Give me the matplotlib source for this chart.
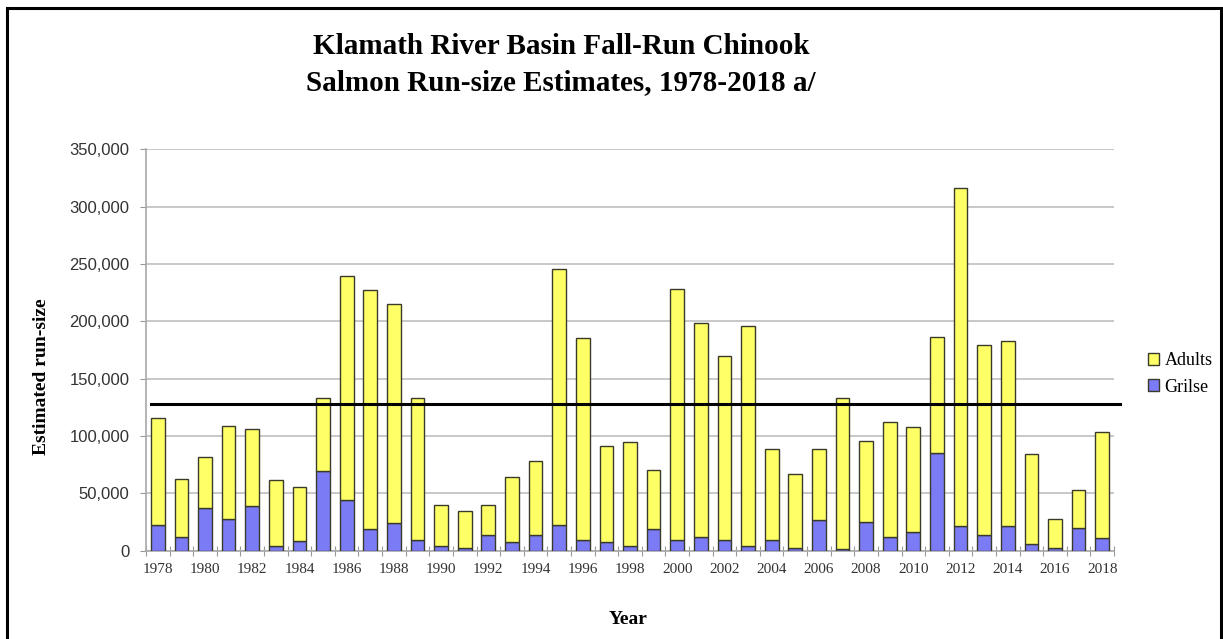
import matplotlib.pyplot as plt
import matplotlib.patches as mpatches
from matplotlib.ticker import FuncFormatter
import numpy as np

# run-size estimates
years = list(range(1978, 2019))
grilse = [22100, 11600, 36900, 27900, 39200, 4100, 8400, 69200, 44200, 18900,
          24100, 9300, 4400, 2000, 13400, 7800, 14000, 22100, 9600, 7800,
          4100, 19200, 9600, 11600, 9000, 4100, 9600, 2300, 26500, 1500,
          25300, 11900, 16300, 84900, 21500, 14000, 21800, 5500, 2300, 20100,
          10800]
totals = [115400, 62800, 82000, 108400, 105800, 61300, 55200, 133400, 239200, 227300,
          215100, 133400, 40100, 34600, 39800, 64500, 78500, 245400, 185200, 91300,
          94800, 70100, 228200, 198500, 169800, 195600, 88700, 67200, 88400, 133400,
          95600, 112200, 107600, 186300, 316600, 179100, 182600, 84300, 27300, 53200,
          103500]
adults = [t - g for t, g in zip(totals, grilse)]
floor_level = 128000

yellow = '#ffff66'
blue = '#7b7bf5'
edge = '#3a3a2a'
serif = 'Liberation Serif'
sans = 'Liberation Sans'

fig = plt.figure(figsize=(12.23, 6.39), dpi=100)
ax = fig.add_axes([146 / 1223, 88.3 / 639, 968 / 1223, 401.4 / 639])

x = np.arange(len(years))
ax.bar(x, grilse, width=0.58, color=blue, edgecolor=edge, linewidth=1.0, zorder=3)
ax.bar(x, adults, bottom=grilse, width=0.58, color=yellow, edgecolor=edge, linewidth=1.0, zorder=3)
ax.plot([-0.29, 40.77], [floor_level, floor_level], color='black', linewidth=2.2,
        zorder=4, clip_on=False)

ax.set_xlim(-0.5, len(years) - 0.5)
ax.set_ylim(0, 350000)
ax.set_yticks(np.arange(0, 350001, 50000))
ax.yaxis.set_major_formatter(FuncFormatter(lambda v, p: f'{int(v):,}'))
ax.grid(axis='y', color='#c4c4c4', linewidth=1.3, zorder=0)

# tick marks between categories, labels every other year
ax.set_xticks(np.arange(-0.5, len(years), 1.0))
ax.set_xticklabels([])
ax.set_xticks(x[::2], minor=True)
ax.set_xticklabels([str(y) for y in years[::2]], minor=True)
ax.tick_params(axis='x', which='major', direction='inout', length=7, color='#999999')
ax.tick_params(axis='x', which='minor', length=0, pad=9, labelsize=11, labelcolor='#333333')
ax.tick_params(axis='y', direction='out', length=4, color='#999999', pad=8,
               labelsize=12, labelcolor='#333333')
for lab in ax.get_xticklabels(minor=True):
    lab.set_fontfamily(serif)
for lab in ax.get_yticklabels():
    lab.set_fontfamily(sans)

for side in ['top', 'right']:
    ax.spines[side].set_visible(False)
for side in ['left', 'bottom']:
    ax.spines[side].set_color('#a8a8a8')
    ax.spines[side].set_linewidth(1.2)

fig.text(561 / 1223, 1 - 47 / 639, 'Klamath River Basin Fall-Run Chinook',
         ha='center', va='center', fontsize=21, fontweight='bold', family=serif)
fig.text(561 / 1223, 1 - 83 / 639, 'Salmon Run-size Estimates, 1978-2018 a/',
         ha='center', va='center', fontsize=21, fontweight='bold', family=serif)
fig.text(42 / 1223, 1 - 377 / 639, 'Estimated run-size', rotation=90, ha='center',
         va='center', fontsize=14, fontweight='bold', family=serif)
fig.text(628 / 1223, 1 - 620 / 639, 'Year', ha='center', va='center', fontsize=14,
         fontweight='bold', family=serif)

handles = [mpatches.Patch(facecolor=yellow, edgecolor=edge, label='Adults'),
           mpatches.Patch(facecolor=blue, edgecolor=edge, label='Grilse')]
fig.legend(handles=handles, loc='center left', bbox_to_anchor=(1132 / 1223, 1 - 374 / 639),
           frameon=False, handlelength=0.6, handleheight=0.6, handletextpad=0.3,
           labelspacing=0.5, prop={'family': serif, 'size': 13})

# outer frame (runs off the bottom of the image)
frame = mpatches.Rectangle((7 / 1223, -0.05), 1214 / 1223, 1.05 - 8 / 639,
                           transform=fig.transFigure, fill=False, edgecolor='black',
                           linewidth=2.2, clip_on=False)
fig.patches.append(frame)

fig.savefig('out.png', dpi=100)
